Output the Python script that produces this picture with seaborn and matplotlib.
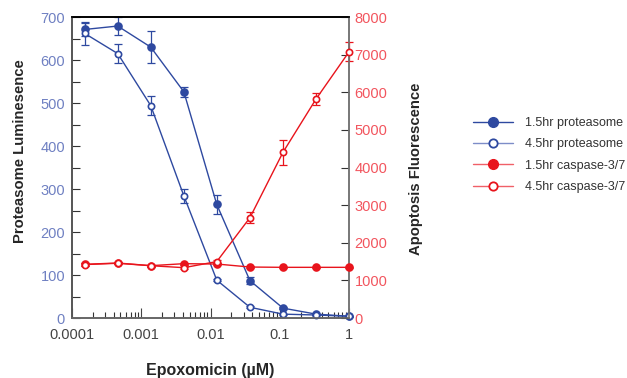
import numpy as np
import pandas as pd
import seaborn as sns
import matplotlib.pyplot as plt
from matplotlib.lines import Line2D
from matplotlib.ticker import FixedLocator, NullFormatter, MultipleLocator

# concentrations (3-fold dilution, uM)
conc = [0.000152, 0.000457, 0.00137, 0.00412, 0.0123, 0.037, 0.111, 0.333, 1.0]

# proteasome luminescence (left axis)
prot_15 = [671, 679, 630, 526, 264, 87, 23, 9, 4]
prot_15_err = [16, 20, 38, 12, 23, 8, 2, 1, 1]
prot_45 = [662, 615, 494, 284, 88, 25, 9, 7, 4]
prot_45_err = [26, 22, 22, 17, 3, 2, 1, 1, 1]

# caspase-3/7 fluorescence (right axis)
casp_15 = [1427, 1462, 1391, 1444, 1435, 1355, 1347, 1347, 1347]
casp_15_err = [40, 30, 30, 30, 30, 20, 20, 20, 20]
casp_45 = [1420, 1455, 1390, 1338, 1500, 2666, 4404, 5820, 7078]
casp_45_err = [40, 30, 30, 30, 40, 150, 330, 170, 245]

labels = ['1.5hr proteasome', '4.5hr proteasome', '1.5hr caspase-3/7', '4.5hr caspase-3/7']
xtick_labels = ['0.0001', '0.001', '0.01', '0.1', '1']

blue = '#2e49a0'
red = '#e8141c'
blue_tick = '#6f80c2'
red_tick = '#f2555e'

sns.set_style('white')
plt.rcParams['font.family'] = ['Liberation Sans', 'DejaVu Sans']

fig = plt.figure(figsize=(6.27, 3.78), dpi=100)
ax = fig.add_axes([0.1148, 0.1587, 0.442, 0.7963])
ax2 = ax.twinx()

df = pd.DataFrame({'conc': conc, 'p15': prot_15, 'p45': prot_45,
                   'c15': casp_15, 'c45': casp_45})

series = [
    (ax, 'p15', prot_15_err, blue, True),
    (ax, 'p45', prot_45_err, blue, False),
    (ax2, 'c15', casp_15_err, red, True),
    (ax2, 'c45', casp_45_err, red, False),
]
for a, col, err, color, filled in series:
    a.errorbar(df['conc'], df[col], yerr=err, fmt='none', ecolor=color,
               elinewidth=0.9, capsize=3, capthick=0.9, clip_on=False, zorder=2)
    sns.lineplot(data=df, x='conc', y=col, ax=a, color=color, lw=1,
                 marker='o', markersize=5 if filled else 4.5,
                 markerfacecolor=color if filled else 'white',
                 markeredgecolor=color, markeredgewidth=1.2,
                 clip_on=False, zorder=3)

for a in (ax, ax2):
    a.set_xscale('log')
    a.set_xlim(1e-4, 1)
ax.set_ylim(0, 700)
ax2.set_ylim(0, 8000)

# x ticks
ax.xaxis.set_major_locator(FixedLocator([1e-4, 1e-3, 1e-2, 1e-1, 1]))
ax.set_xticklabels(xtick_labels)
minors = [m * 10.0 ** e for e in range(-4, 0) for m in range(2, 10)]
ax.xaxis.set_minor_locator(FixedLocator(minors))
ax.xaxis.set_minor_formatter(NullFormatter())
ax.tick_params(axis='x', which='major', direction='in', length=7, width=0.8,
               colors='#444444', labelsize=10.5, bottom=True, pad=7)
ax.tick_params(axis='x', which='minor', direction='in', length=4, width=0.8,
               colors='#333333', bottom=True)

# left y ticks
ax.yaxis.set_major_locator(MultipleLocator(100))
ax.yaxis.set_minor_locator(MultipleLocator(50))
ax.tick_params(axis='y', which='major', direction='in', length=6, width=0.8,
               color='#333333', labelcolor=blue_tick, labelsize=10.5, left=True, pad=5)
ax.tick_params(axis='y', which='minor', direction='in', length=6, width=0.8,
               color='#333333', left=True)

# right y ticks
ax2.yaxis.set_major_locator(MultipleLocator(1000))
ax2.tick_params(axis='y', which='major', direction='in', length=6, width=0.8,
                color='#333333', labelcolor=red_tick, labelsize=10.5, right=True, pad=4)

for a in (ax, ax2):
    a.spines['top'].set_color('black')
    a.spines['bottom'].set_color('#666666')
    a.spines['left'].set_color('#555555')
    a.spines['right'].set_color('#777777')
    for s in a.spines.values():
        s.set_linewidth(1.2)

ax.set_xlabel('Epoxomicin (µM)', fontsize=11.5, fontweight='bold', labelpad=15)
ax.set_ylabel('Proteasome Luminesence', fontsize=10.7, fontweight='bold')
ax2.set_ylabel('Apoptosis Fluorescence', fontsize=10.7, fontweight='bold')
ax.yaxis.set_label_coords(-0.163, 0.555)
ax2.yaxis.set_label_coords(1.217, 0.496)
ax.grid(False)
ax2.grid(False)

handles = [
    Line2D([], [], color=blue, lw=1, marker='o', ms=7, mfc=blue, mec=blue),
    Line2D([], [], color='#7d8dc8', lw=1, marker='o', ms=6, mfc='white', mec=blue, mew=1.3),
    Line2D([], [], color='#f06068', lw=1, marker='o', ms=7, mfc=red, mec=red),
    Line2D([], [], color='#f06068', lw=1, marker='o', ms=6, mfc='white', mec=red, mew=1.3),
]
leg = fig.legend(handles, labels, loc='center left', bbox_to_anchor=(0.737, 0.59),
                 frameon=False, handlelength=3.2, handletextpad=0.9, labelspacing=0.75,
                 prop={'size': 9})
for t in leg.get_texts():
    t.set_color('#333333')

fig.savefig('out.png', dpi=100)
